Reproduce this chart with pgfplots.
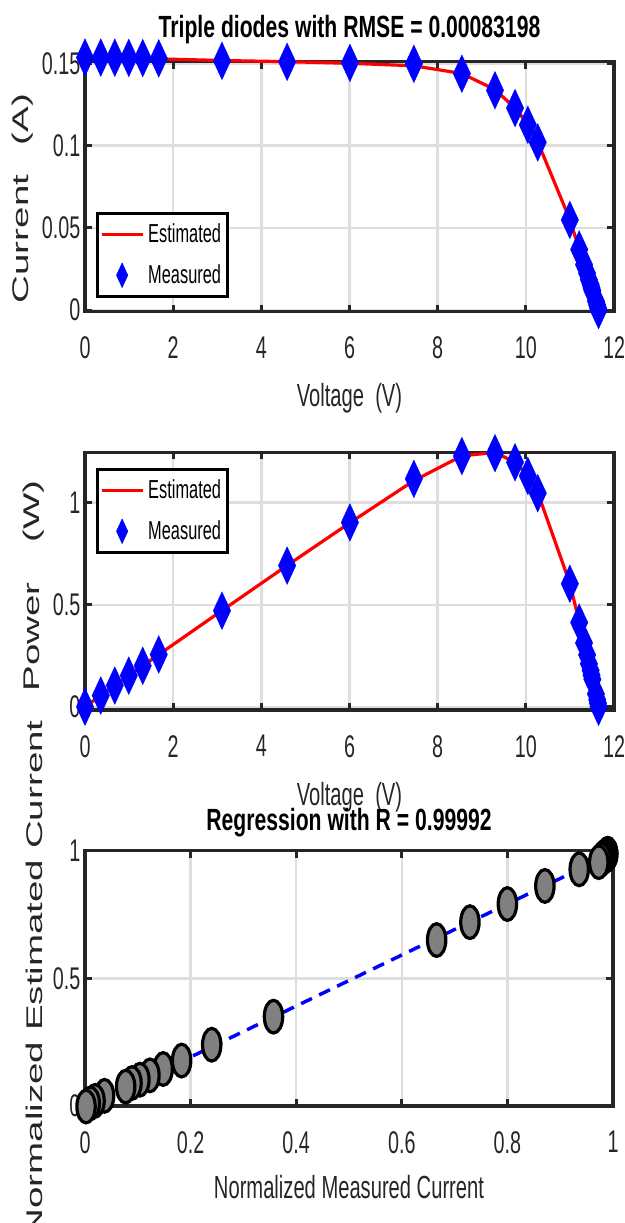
\documentclass[border=0pt]{standalone}
\usepackage{fontspec}
\usepackage{pgfplots}
\usepackage{pgfplotstable}
\pgfplotsset{compat=1.18}
\setmainfont{Liberation Sans}[FakeStretch=0.63]
\newfontfamily\titlefont{Liberation Sans}[FakeStretch=0.69]
\newfontfamily\ylabfont{Liberation Sans}[FakeStretch=1.7]
\definecolor{axcol}{RGB}{38,38,38}
\definecolor{gridcol}{RGB}{222,222,222}
\definecolor{mgray}{RGB}{128,128,128}
\newcommand\tickfont{\fontsize{23.5}{27}\selectfont}
\newcommand\legfont{\fontsize{19.5}{22}\selectfont}
\newcommand\labfont{\fontsize{24}{28}\selectfont}
\newcommand\ttlfont{\titlefont\bfseries\fontsize{23}{27}\selectfont}
\newcommand\ylfont{\ylabfont\fontsize{17}{20}\selectfont}

\pgfplotstableread{
V      Im      Ie      Pm       Pe
0.000  0.1535  0.1529  0.00000  0.00000
0.358  0.1535  0.1529  0.05495  0.05474
0.676  0.1534  0.1528  0.10370  0.10329
0.993  0.1533  0.1528  0.15223  0.15173
1.310  0.1532  0.1527  0.20069  0.20004
1.673  0.1530  0.1527  0.25597  0.25545
3.107  0.1515  0.1517  0.47071  0.47133
4.585  0.1509  0.1510  0.69188  0.69234
6.009  0.1503  0.1500  0.90315  0.90135
7.460  0.1497  0.1485  1.11676  1.10781
8.549  0.1437  0.1438  1.22849  1.22935
9.300  0.1336  0.1340  1.24248  1.24620
9.755  0.1228  0.1228  1.19791  1.19791
10.045 0.1126  0.1130  1.13107  1.13509
10.270 0.1019  0.1022  1.04651  1.04959
10.998 0.0548  0.0550  0.60269  0.60489
11.210 0.0368  0.0372  0.41253  0.41701
11.320 0.0276  0.0280  0.31243  0.31696
11.390 0.0223  0.0225  0.25400  0.25628
11.430 0.0184  0.0186  0.21031  0.21260
11.470 0.0155  0.0156  0.17779  0.17893
11.490 0.0135  0.0136  0.15512  0.15626
11.510 0.0117  0.0118  0.13467  0.13582
11.590 0.0054  0.0055  0.06259  0.06375
11.620 0.0029  0.0030  0.03370  0.03486
11.635 0.0015  0.0015  0.01745  0.01745
11.650 0.0000  0.0000  0.00000  0.00000
}\pvdata

\pgfplotstableread{
xm     ye
0.990  0.988
0.990  0.987
0.989  0.986
0.989  0.985
0.988  0.984
0.987  0.982
0.984  0.977
0.981  0.972
0.978  0.965
0.973  0.955
0.936  0.927
0.871  0.862
0.800  0.791
0.729  0.720
0.666  0.650
0.357  0.350
0.240  0.240
0.183  0.178
0.148  0.145
0.123  0.120
0.104  0.103
0.089  0.090
0.077  0.076
0.037  0.040
0.019  0.020
0.010  0.010
0.002  -0.002
}\regdata

\pgfplotsset{
  base/.style={
    scale only axis,
    width=396.75pt,
    clip=false,
    axis line style={line width=2.4pt, color=axcol},
    tick style={line width=2.2pt, color=axcol},
    major tick length=5.25pt,
    tick align=inside,
    grid=major,
    major grid style={line width=1.8pt, color=gridcol},
    /pgf/number format/assume math mode=true,
    tick label style={font=\tickfont, text=axcol},
    xticklabel style={yshift=-15.5pt},
    label style={text=axcol},
    xlabel style={font=\labfont, at={(axis description cs:0.5,0)}, anchor=base, yshift=-71.25pt},
    title style={font=\ttlfont, text=black, at={(axis description cs:0.5,1)}, anchor=base},
    legend cell align=left,
    legend style={draw=black, line width=2pt, fill=white, font=\legfont,
      inner xsep=2pt, inner ysep=5pt, row sep=9pt,
      nodes={inner sep=3pt, text=black}},
  },
  estline/.style={red, line width=2.4pt, mark=none,
    legend image code/.code={\draw[##1] (0pt,0pt) -- (30.75pt,0pt);}},
  measmark/.style={only marks, mark=diamond*, mark size=8.7pt,
    mark options={yscale=1.62, fill=blue, draw=blue, line width=0.3pt},
    legend image code/.code={\draw[##1, mark options={scale=0.66, yscale=1.62, fill=blue, draw=blue, line width=0.3pt}] plot coordinates {(15.4pt,0pt)};}},
}

\begin{document}
\begin{tikzpicture}
\useasboundingbox (0,0) rectangle (468pt,-917.25pt);

% ---------- plot 1 ----------
\begin{axis}[base,
  at={(63.75pt,-233.75pt)}, anchor=south west,
  height=187.5pt,
  xmin=0, xmax=12, ymin=-0.001, ymax=0.151,
  xtick={0,2,4,6,8,10,12},
  ytick={0,0.05,0.1,0.15}, yticklabels={0,0.05,0.1,0.15},
  title={Triple diodes with RMSE = 0.00083198},
  title style={yshift=12pt},
  xlabel={Voltage\ \ (V)},
  ylabel={\ylfont Current\hspace{22pt}(A)},
  ylabel style={at={(axis description cs:-0.118,0.452)}, anchor=center},
  legend style={at={(0.0208,0.056)}, anchor=south west},
]
\addplot[estline] table[x=V, y=Ie] {\pvdata};
\addlegendentry{Estimated}
\addplot[measmark] table[x=V, y=Im] {\pvdata};
\addlegendentry{Measured}
\end{axis}

% ---------- plot 2 ----------
\begin{axis}[base,
  at={(63.75pt,-532.5pt)}, anchor=south west,
  height=193.3pt,
  xmin=0, xmax=12, ymin=-0.016, ymax=1.247,
  xtick={0,2,4,6,8,10,12},
  ytick={0,0.5,1}, yticklabels={0,0.5,1},
  xlabel={Voltage\ \ (V)},
  ylabel={\ylfont Power\hspace{30pt}(W)},
  ylabel style={at={(axis description cs:-0.0964,0.481)}, anchor=center},
  legend style={at={(0.0208,0.939)}, anchor=north west},
]
\addplot[estline] table[x=V, y=Pe] {\pvdata};
\addlegendentry{Estimated}
\addplot[measmark] table[x=V, y=Pm] {\pvdata};
\addlegendentry{Measured}
\end{axis}

% ---------- plot 3 ----------
\begin{axis}[base,
  at={(63.75pt,-829.5pt)}, anchor=south west,
  width=396pt, height=191.5pt,
  xmin=0, xmax=1, ymin=0, ymax=1,
  xtick={0,0.2,0.4,0.6,0.8,1}, xticklabels={0,0.2,0.4,0.6,0.8,1},
  ytick={0,0.5,1}, yticklabels={0,0.5,1},
  title={Regression with R = 0.99992},
  title style={yshift=9pt},
  xlabel={Normalized Measured Current},
  xlabel style={yshift=2.25pt},
  ylabel={\ylfont Normalized Estimated Current},
  ylabel style={at={(axis description cs:-0.0964,0.5)}, anchor=center},
]
\addplot[only marks, mark=*, mark size=6.9pt,
  mark options={yscale=1.78, fill=mgray, draw=black, line width=2.4pt}]
  table[x=xm, y=ye] {\regdata};
\addplot[blue, line width=2.6pt, dash pattern=on 9pt off 6pt]
  coordinates {(0,-0.008) (1,0.991)};
\end{axis}
\end{tikzpicture}
\end{document}
